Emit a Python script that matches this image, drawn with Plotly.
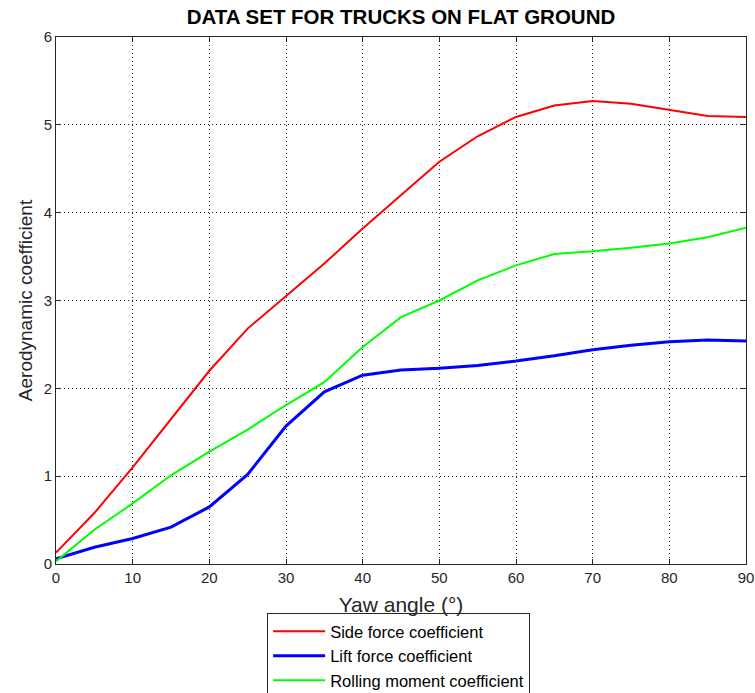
import plotly.graph_objects as go

yaw = [0, 5, 10, 15, 20, 25, 30, 35, 40, 45, 50, 55, 60, 65, 70, 75, 80, 85, 90]
side_force = [0.13, 0.58, 1.10, 1.65, 2.20, 2.68, 3.05, 3.42, 3.82, 4.20, 4.58, 4.87, 5.09, 5.22, 5.27, 5.24, 5.17, 5.10, 5.09]
lift_force = [0.06, 0.19, 0.29, 0.42, 0.65, 1.02, 1.57, 1.96, 2.15, 2.21, 2.23, 2.26, 2.31, 2.37, 2.44, 2.49, 2.53, 2.55, 2.54]
rolling_moment = [0.03, 0.39, 0.69, 1.01, 1.28, 1.53, 1.81, 2.07, 2.47, 2.81, 3.00, 3.23, 3.40, 3.53, 3.56, 3.60, 3.65, 3.72, 3.83]

series = [
    ("Side force coefficient", side_force, "#ff0000", 2),
    ("Lift force coefficient", lift_force, "#0000ff", 3),
    ("Rolling moment coefficient", rolling_moment, "#00ff00", 2),
]

FONT = "Liberation Sans, Arial"

fig = go.Figure()
for name, vals, color, width in series:
    fig.add_trace(go.Scatter(x=yaw, y=vals, mode="lines", name=name,
                             line=dict(color=color, width=width)))

axis_common = dict(
    showgrid=True, gridcolor="#222222", griddash="1px,3px", gridwidth=1,
    showline=True, linecolor="#262626", linewidth=1, mirror="ticks",
    ticks="inside", ticklen=5, tickcolor="#262626",
    tickfont=dict(family=FONT, size=15, color="#262626"),
    ticklabeloverflow="allow",
    zeroline=False,
)

fig.update_xaxes(range=[0, 90], dtick=10, tick0=0,
                 title=dict(text="Yaw angle (°)", standoff=12,
                            font=dict(family=FONT, size=21, color="#262626")),
                 **axis_common)
fig.update_yaxes(range=[0, 6], dtick=1, tick0=0,
                 title=dict(text="Aerodynamic coefficient", standoff=6,
                            font=dict(family=FONT, size=19, color="#262626")),
                 **axis_common)

fig.update_layout(
    width=755, height=693,
    margin=dict(l=56, r=9, t=37, b=129, autoexpand=False),
    paper_bgcolor="white", plot_bgcolor="white",
    title=dict(text="<b>DATA SET FOR TRUCKS ON FLAT GROUND</b>", xref="paper", x=0.5, xanchor="center",
               y=1 - 17 / 693, yanchor="middle",
               font=dict(family=FONT, size=20.5, color="black")),
    showlegend=True,
    legend=dict(x=0.306, xanchor="left", y=-0.093, yanchor="top",
                bordercolor="#262626", borderwidth=1, bgcolor="white",
                itemwidth=52, tracegroupgap=0,
                font=dict(family=FONT, size=16.5, color="black")),
)

fig.write_html("out.html")
